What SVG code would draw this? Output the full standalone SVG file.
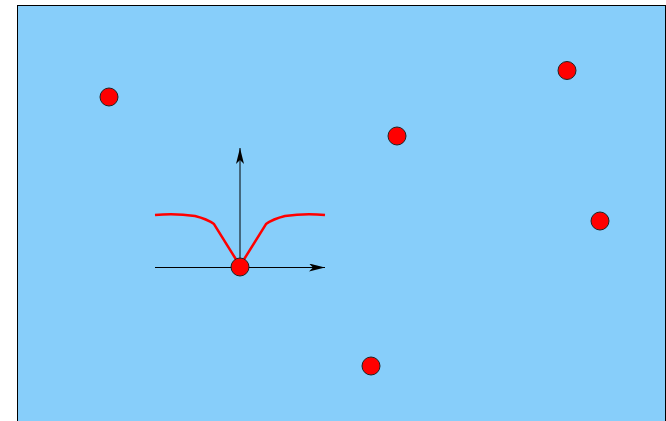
<svg xmlns="http://www.w3.org/2000/svg" width="666" height="421" viewBox="0 0 666 421">
<style>
.pt{fill:#ff0000;stroke:#222;stroke-width:1}
.ax{stroke:#000;stroke-width:1;fill:none}
</style>
<defs>
<marker id="ah" viewBox="0 0 16 8" refX="16" refY="4" markerWidth="16" markerHeight="8" markerUnits="userSpaceOnUse" orient="auto">
<path d="M0,0 L16,4 L0,8 L4,4 Z" fill="#000"/>
</marker>
</defs>
<rect x="17.5" y="5.5" width="648" height="420" fill="#87cefa" stroke="#000" stroke-width="1"/>
<g id="curve">
<path d="M155,215 Q175,213 195,216 Q207,219 214,224 L237,261" fill="none" stroke="#ff0000" stroke-width="2.5"/>
<path d="M243,261 L266,224 Q273,219 285,216 Q305,213 325,215" fill="none" stroke="#ff0000" stroke-width="2.5"/>
</g>
<g id="connectors">
<line class="ax" x1="155" y1="267.5" x2="325" y2="267.5" marker-end="url(#ah)"/>
<line class="ax" x1="240" y1="267" x2="240" y2="148" stroke="#4a1515" marker-end="url(#ah)"/>
</g>
<g id="p1"><circle class="pt" cx="109" cy="97" r="9"/></g>
<g id="p2"><circle class="pt" cx="397" cy="136" r="9"/></g>
<g id="p3"><circle class="pt" cx="567" cy="70.5" r="9"/></g>
<g id="p4"><circle class="pt" cx="600" cy="221" r="9"/></g>
<g id="p5"><circle class="pt" cx="371" cy="366" r="9"/></g>
<g id="p6"><circle class="pt" cx="240" cy="267" r="9"/></g>
</svg>
